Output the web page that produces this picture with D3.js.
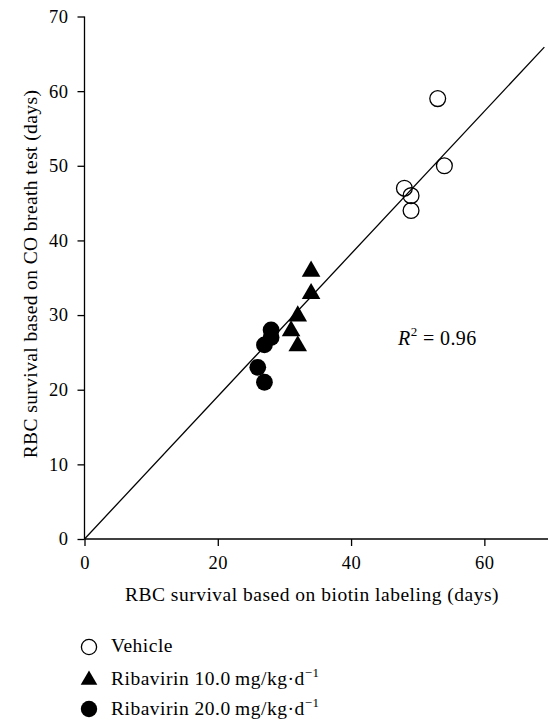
<!DOCTYPE html>
<html><head><meta charset="utf-8">
<script src="https://cdn.jsdelivr.net/npm/d3@7"></script>
<style>body{margin:0;background:#fff}svg{display:block}text{font-family:"Liberation Serif","Times New Roman",serif;fill:#000}</style>
</head><body><div id="chart"></div>
<script>
const vehicle = [[53,59],[54,50],[48,47],[49,46],[49,44]];
const riba10 = [[34,36],[34,33],[32,30],[31,28],[32,26]];
const riba20 = [[28,28],[28,27],[27,26],[26,23],[27,21]];
const xTicks = [0,20,40,60];
const yTicks = [0,10,20,30,40,50,60,70];
const fitLine = [[0,0],[69,65.9]];
const r2Label = "0.96";
const legendLabels = ["Vehicle","Ribavirin 10.0\u2009mg/kg\u00b7d","Ribavirin 20.0\u2009mg/kg\u00b7d"];

const W=548,H=722;
const svg=d3.select("#chart").append("svg").attr("width",W).attr("height",H);
const x=d3.scaleLinear().domain([0,70]).range([84.5,551]);
const y=d3.scaleLinear().domain([0,70]).range([539,16.5]);

const xAxis=svg.append("g").attr("transform",`translate(0,${y(0)})`)
  .call(d3.axisBottom(x).tickValues(xTicks).tickSize(7).tickPadding(10).tickFormat(d3.format("d")));
const yAxis=svg.append("g").attr("transform",`translate(${x(0)},0)`)
  .call(d3.axisLeft(y).tickValues(yTicks).tickSize(7).tickPadding(9).tickFormat(d3.format("d")));
[xAxis,yAxis].forEach(g=>{
  g.select(".domain").attr("stroke","#000").attr("stroke-width",1.3);
  g.selectAll(".tick line").attr("stroke","#000").attr("stroke-width",1.3);
  g.selectAll("text").style("font-family",'"Liberation Serif",serif').style("font-size","18.5px").style("letter-spacing","0.5px").attr("fill","#000");
});
xAxis.select(".domain").attr("d",`M${x(0)},0H${W}`);
yAxis.select(".domain").attr("d",`M0,${y(70)}V${y(0)}`);

svg.append("text").attr("x",312).attr("y",601).attr("text-anchor","middle")
  .style("font-size","19.5px").style("letter-spacing","0.5px").text("RBC survival based on biotin labeling (days)");
svg.append("text").attr("transform",`translate(37,274) rotate(-90)`).attr("text-anchor","middle")
  .style("font-size","19.5px").style("letter-spacing","0.4px").text("RBC survival based on CO breath test (days)");

svg.append("line").attr("x1",x(fitLine[0][0])).attr("y1",y(fitLine[0][1]))
  .attr("x2",x(fitLine[1][0])).attr("y2",y(fitLine[1][1])).attr("stroke","#000").attr("stroke-width",1.3);

const r2=svg.append("text").attr("x",398).attr("y",345).style("font-size","20px").style("letter-spacing","0.4px");
r2.append("tspan").style("font-style","italic").text("R");
r2.append("tspan").attr("dy",-9).style("font-size","13px").text("2");
r2.append("tspan").attr("dy",9).text(" = "+r2Label);

const tri=d3.symbol().type(d3.symbolTriangle).size(150);
svg.append("g").selectAll("circle").data(vehicle).join("circle")
  .attr("cx",d=>x(d[0])).attr("cy",d=>y(d[1])).attr("r",7.9)
  .attr("fill","none").attr("stroke","#000").attr("stroke-width",1.3);
svg.append("g").selectAll("path").data(riba10).join("path")
  .attr("d",tri).attr("transform",d=>`translate(${x(d[0])},${y(d[1])+1})`).attr("fill","#000");
svg.append("g").selectAll("circle").data(riba20).join("circle")
  .attr("cx",d=>x(d[0])).attr("cy",d=>y(d[1])).attr("r",8.4).attr("fill","#000");

const lg=svg.append("g");
const ly=[647,679,709];
const lb=[652,685,715];
lg.append("circle").attr("cx",89).attr("cy",ly[0]).attr("r",7.6).attr("fill","none").attr("stroke","#000").attr("stroke-width",1.3);
lg.append("path").attr("d",d3.symbol().type(d3.symbolTriangle).size(120)).attr("transform",`translate(89,${ly[1]+1})`).attr("fill","#000");
lg.append("circle").attr("cx",89).attr("cy",ly[2]).attr("r",8.2).attr("fill","#000");
legendLabels.forEach((t,i)=>{
  const tx=lg.append("text").attr("x",111).attr("y",lb[i]).style("font-size","19.5px").style("letter-spacing","0.5px").text(t);
  if(i>0){tx.append("tspan").attr("dy",-8).style("font-size","13px").text("\u22121");}
});
</script></body></html>
